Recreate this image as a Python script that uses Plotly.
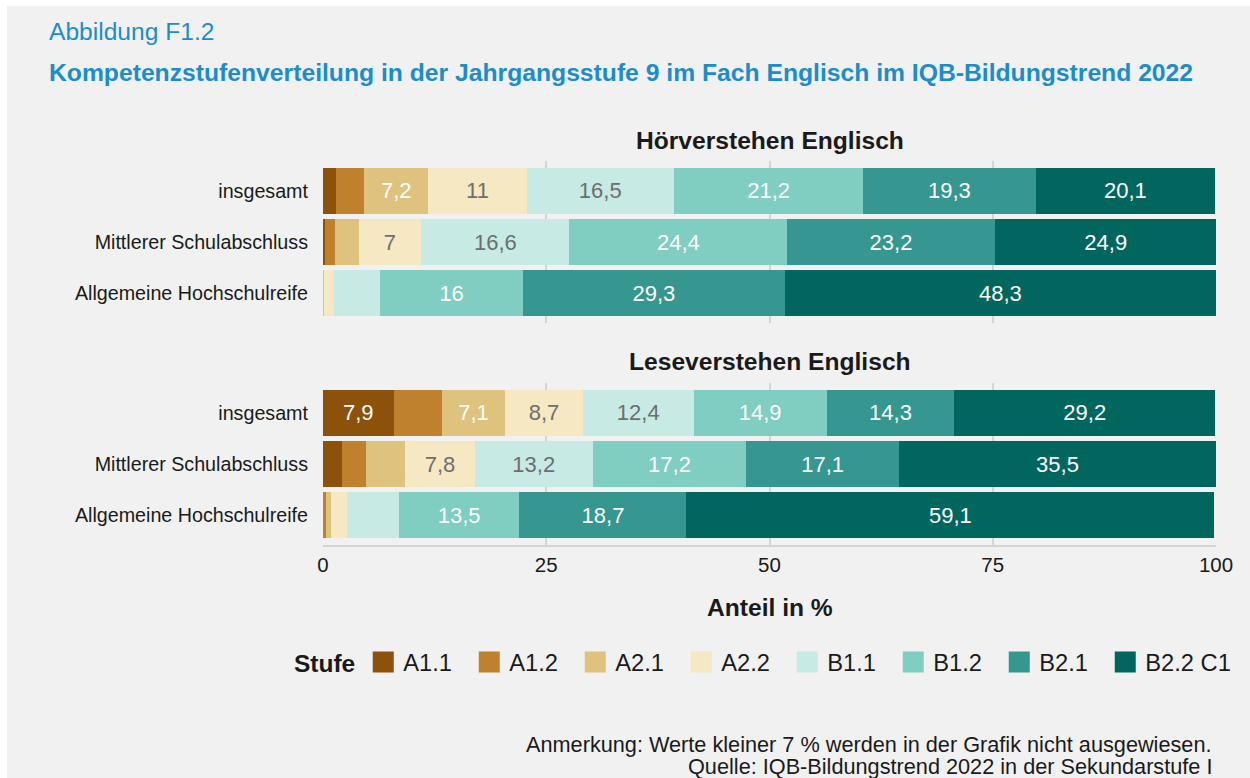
import plotly.graph_objects as go

W, H = 1250, 778

stufen = ["A1.1", "A1.2", "A2.1", "A2.2", "B1.1", "B1.2", "B2.1", "B2.2 C1"]
colors = ["#8C510A", "#BF812D", "#DFC27D", "#F6E8C3", "#C7EAE5", "#80CDC1", "#35978F", "#01665E"]
text_colors = ["#FFFFFF", "#FFFFFF", "#FFFFFF", "#6E6E6E", "#6E6E6E", "#FFFFFF", "#FFFFFF", "#FFFFFF"]

gruppen = ["insgesamt", "Mittlerer Schulabschluss", "Allgemeine Hochschulreife"]

# Hörverstehen Englisch: rows = gruppen, columns = stufen
hoeren_insgesamt = [1.5, 3.1, 7.2, 11.0, 16.5, 21.2, 19.3, 20.1]
hoeren_msa = [0.2, 1.1, 2.7, 7.0, 16.6, 24.4, 23.2, 24.9]
hoeren_ahr = [0.0, 0.0, 0.1, 1.1, 5.2, 16.0, 29.3, 48.3]

# Leseverstehen Englisch
lesen_insgesamt = [7.9, 5.4, 7.1, 8.7, 12.4, 14.9, 14.3, 29.2]
lesen_msa = [2.1, 2.7, 4.4, 7.8, 13.2, 17.2, 17.1, 35.5]
lesen_ahr = [0.1, 0.2, 0.6, 1.8, 5.8, 13.5, 18.7, 59.1]

panel_titles = ["Hörverstehen Englisch", "Leseverstehen Englisch"]
x_ticks = [0, 25, 50, 75, 100]

FONT = "Liberation Sans, Arial, sans-serif"

def px(x):
    return x / W

def py(y):
    return (H - y) / H

fig = go.Figure()

panels = [
    ([hoeren_insgesamt, hoeren_msa, hoeren_ahr], "x", "y"),
    ([lesen_insgesamt, lesen_msa, lesen_ahr], "x2", "y2"),
]

def fmt(v):
    return (f"{v:g}").replace(".", ",") if v >= 7 else ""

for rows, xa, ya in panels:
    for i, stufe in enumerate(stufen):
        vals = [r[i] for r in rows]
        fig.add_trace(go.Bar(
            y=gruppen, x=vals, orientation="h", name=stufe,
            marker=dict(color=colors[i], line=dict(width=0)),
            text=[fmt(v) for v in vals], textposition="inside",
            insidetextanchor="middle", textangle=0,
            textfont=dict(family=FONT, size=22, color=text_colors[i]),
            width=0.9, showlegend=False, xaxis=xa, yaxis=ya,
            hovertemplate="%{y}: %{x}<extra>" + stufe + "</extra>",
        ))

# legend proxies
for i, stufe in enumerate(stufen):
    fig.add_trace(go.Scatter(
        x=[None], y=[None], mode="markers", name=stufe,
        marker=dict(symbol="square", size=16, color=colors[i],
                    line=dict(color=colors[i], width=5)),
        xaxis="x2", yaxis="y2", showlegend=True,
    ))
# empty spacer entry so the last legend label is not clipped
fig.add_trace(go.Scatter(
    x=[None], y=[None], mode="markers", name=" ",
    marker=dict(symbol="square", size=1, color="rgba(0,0,0,0)"),
    xaxis="x2", yaxis="y2", showlegend=True, hoverinfo="skip",
))

x_dom = [px(323), px(1216)]
y_top = [py(323), py(161)]
y_bot = [py(545), py(383)]

grid = dict(showgrid=True, gridcolor="#D4D4D4", gridwidth=2, zeroline=False,
            range=[0, 100], tickvals=x_ticks, domain=x_dom, fixedrange=True)
yax = dict(type="category", categoryarray=gruppen, categoryorder="array",
           range=[2.58, -0.58], showgrid=False, zeroline=False,
           tickfont=dict(family=FONT, size=19.7, color="#1A1A1A"),
           ticks="", ticklen=0, ticklabelstandoff=14, fixedrange=True)

fig.update_layout(
    width=W, height=H,
    margin=dict(l=0, r=0, t=0, b=0, autoexpand=False),
    paper_bgcolor="#F1F1F1", plot_bgcolor="rgba(0,0,0,0)",
    barmode="stack", bargap=0.1,
    font=dict(family=FONT, color="#1A1A1A"),
    xaxis=dict(**grid, anchor="y", showticklabels=False, ticks=""),
    yaxis=dict(**yax, domain=y_top, anchor="x"),
    xaxis2=dict(**grid, anchor="y2", showticklabels=True, ticks="",
                showline=True, linecolor="#D4D4D4", linewidth=2,
                ticklabelstandoff=0,
                tickfont=dict(family=FONT, size=20.5, color="#1A1A1A")),
    yaxis2=dict(**yax, domain=y_bot, anchor="x2"),
    legend=dict(orientation="h", x=px(292), xanchor="left",
                y=py(662), yanchor="middle", traceorder="normal",
                title=dict(text="<b>Stufe</b>", font=dict(family=FONT, size=24.5, color="#1A1A1A"), side="left"),
                font=dict(family=FONT, size=23.7, color="#1A1A1A"),
                bgcolor="rgba(0,0,0,0)", entrywidth=61, itemclick=False, itemdoubleclick=False),
    shapes=[
        dict(type="rect", xref="paper", yref="paper", x0=0, x1=1.0, y0=py(6), y1=1.0,
             fillcolor="#FFFFFF", line=dict(width=0), layer="below"),
        dict(type="rect", xref="paper", yref="paper", x0=0, x1=px(7), y0=0, y1=1.0,
             fillcolor="#FFFFFF", line=dict(width=0), layer="below"),
    ],
    annotations=[
        dict(text="Abbildung F1.2", x=px(47), y=py(31), xref="paper", yref="paper",
             xanchor="left", yanchor="middle", showarrow=False,
             font=dict(family=FONT, size=24.6, color="#1C8DCA")),
        dict(text="<b>Kompetenzstufenverteilung in der Jahrgangsstufe 9 im Fach Englisch im IQB-Bildungstrend 2022</b>",
             x=px(47), y=py(72), xref="paper", yref="paper",
             xanchor="left", yanchor="middle", showarrow=False,
             font=dict(family=FONT, size=24.7, color="#1C8DCA")),
        dict(text="<b>" + panel_titles[0] + "</b>", x=px(769.5), y=py(140), xref="paper", yref="paper",
             xanchor="center", yanchor="middle", showarrow=False,
             font=dict(family=FONT, size=24.6, color="#1A1A1A")),
        dict(text="<b>" + panel_titles[1] + "</b>", x=px(769.5), y=py(361), xref="paper", yref="paper",
             xanchor="center", yanchor="middle", showarrow=False,
             font=dict(family=FONT, size=24.6, color="#1A1A1A")),
        dict(text="<b>Anteil in %</b>", x=px(769.5), y=py(607), xref="paper", yref="paper",
             xanchor="center", yanchor="middle", showarrow=False,
             font=dict(family=FONT, size=24.6, color="#1A1A1A")),
        dict(text="Anmerkung: Werte kleiner 7 % werden in der Grafik nicht ausgewiesen.",
             x=px(1214), y=py(744), xref="paper", yref="paper",
             xanchor="right", yanchor="middle", showarrow=False,
             font=dict(family=FONT, size=21.7, color="#1A1A1A")),
        dict(text="Quelle: IQB-Bildungstrend 2022 in der Sekundarstufe I",
             x=px(1214), y=py(766), xref="paper", yref="paper",
             xanchor="right", yanchor="middle", showarrow=False,
             font=dict(family=FONT, size=21.7, color="#1A1A1A")),
    ],
)

fig.write_html(
    "out.html",
    config={"responsive": False, "displayModeBar": False},
    post_script="document.body.style.margin='0';document.body.style.overflow='hidden';",
)
